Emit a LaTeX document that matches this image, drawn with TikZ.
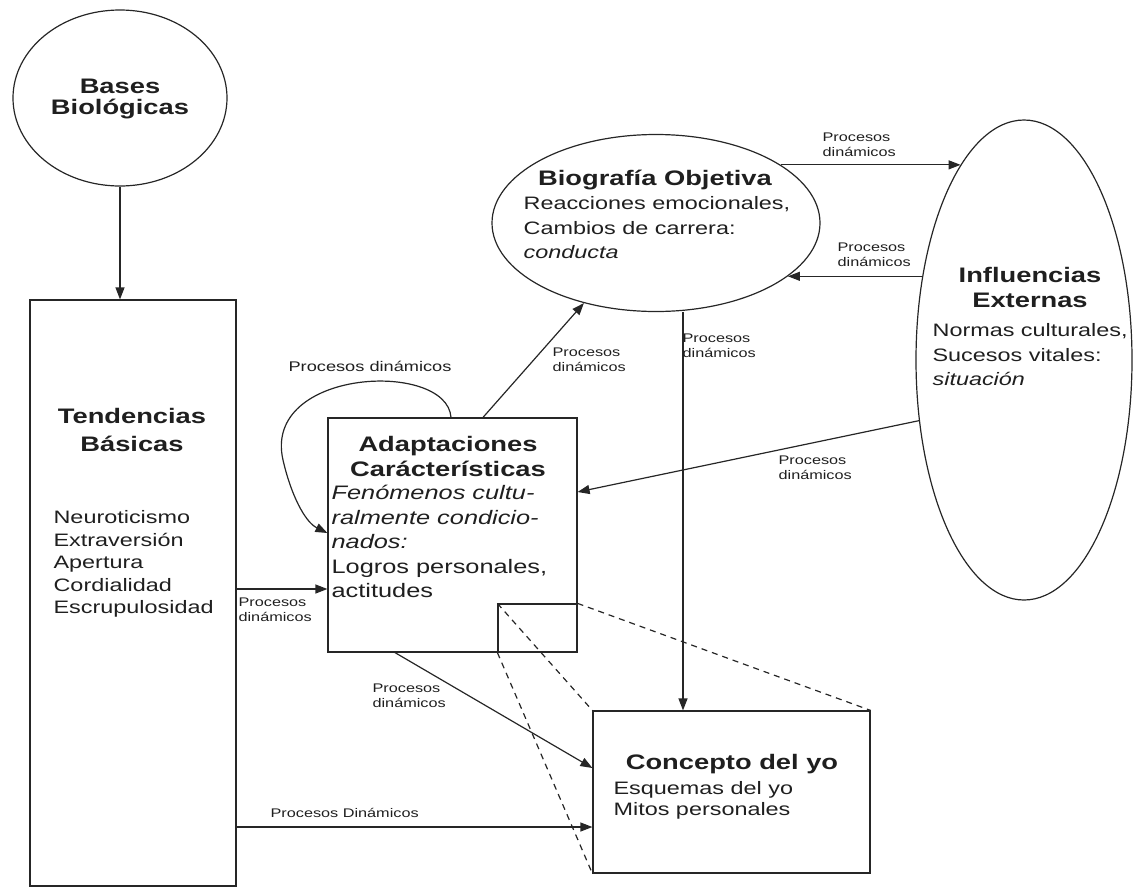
\documentclass[tikz,border=0pt]{standalone}
\usepackage{fontspec}
\setmainfont{Liberation Sans}[FakeStretch=1.3]
\usetikzlibrary{shapes.geometric,arrows.meta,calc}
\begin{document}
\begin{tikzpicture}[x=1pt,y=-1pt,
  line width=1.2pt, draw=black!85, text=black!88,
  arr/.style={-{Triangle[length=12pt,width=9pt]}},
  box/.style={draw,rectangle,inner sep=0},
  oval/.style={draw,ellipse,inner sep=0},
  head/.style={font=\fontsize{21}{28}\selectfont\bfseries, align=center, inner sep=0},
  body/.style={font=\fontsize{18}{24.5}\selectfont, align=left, inner sep=0, anchor=north west},
  lab/.style={font=\fontsize{12.5}{15.5}\selectfont, align=left, inner sep=0, anchor=north west},
  dashln/.style={dashed, dash pattern=on 6pt off 5pt}
]
\useasboundingbox (0,0) rectangle (1134,892);

% shapes
\node[oval, minimum width=214, minimum height=176] (bases) at (120,98) {};
\node[box, minimum width=206, minimum height=586] (tend) at (133,593) {};
\node[oval, minimum width=328, minimum height=177] (biog) at (656,223) {};
\node[oval, minimum width=216, minimum height=480] (influ) at (1024,360) {};
\node[box, minimum width=249, minimum height=234] (adapt) at (452.5,535) {};
\node[box, minimum width=79, minimum height=48] (zoomr) at (537.5,628) {};
\node[box, minimum width=277, minimum height=162] (concepto) at (731.5,792) {};

% texts
\node[head, font=\fontsize{21}{21}\selectfont\bfseries] (basesT) at (120,99) {Bases\\Biológicas};
\node[head] (tendT) at (132,430) {Tendencias\\Básicas};
\node[body, font=\fontsize{18}{22.5}\selectfont] (tendB) at (53,510) {Neuroticismo\\Extraversión\\Apertura\\Cordialidad\\Escrupulosidad};
\node[head] (biogT) at (655,180) {Biografía Objetiva};
\node[body] (biogB) at (523,196) {Reacciones emocionales,\\Cambios de carrera:\\\textit{conducta}};
\node[head, font=\fontsize{21}{25}\selectfont\bfseries] (influT) at (1030,287) {Influencias\\Externas};
\node[body] (influB) at (932,323) {Normas culturales,\\Sucesos vitales:\\\textit{situación}};
\node[head, font=\fontsize{21}{25}\selectfont\bfseries] (adaptT) at (448,456) {Adaptaciones\\Carácterísticas};
\node[body, font=\fontsize{19.5}{24.5}\selectfont] (adaptB) at (331,485) {\textit{Fenómenos cultu-}\\\textit{ralmente condicio-}\\\textit{nados:}\\Logros personales,\\actitudes};
\node[head] (concT) at (732,764) {Concepto del yo};
\node[body, font=\fontsize{18}{21}\selectfont] (concB) at (613,781) {Esquemas del yo\\Mitos personales};

% connectors
\draw[arr] (bases.south) -- (bases.south |- tend.north);
\draw[arr] (tend.east |- 0,589) -- (adapt.west |- 0,589);
\draw[arr] (tend.east |- 0,827) -- (concepto.west |- 0,827);
\draw[arr] (adapt.south -| 395,0) -- (concepto.west |- 0,768);
\draw[arr] (adapt.north -| 483,0) -- (biog.228);
\draw[arr] (biog.south -| 683,0) -- (concepto.north -| 683,0);
\draw[arr] (biog.25) -- (biog.25 -| influ.108);
\draw[arr] (influ.140 |- biog.-22) -- (biog.-22);
\draw[arr] (influ.210) -- (adapt.east |- 0,492);
\draw[arr] (adapt.north -| 451,0) .. controls (447,360) and (262,368) .. (283,460)
  .. controls (291,495) and (305,522) .. (adapt.west |- 0,533);

% zoom projection
\draw[dashln] (zoomr.north west) -- (concepto.north west);
\draw[dashln] (zoomr.south west) -- (concepto.south west);
\draw[dashln] (zoomr.north east) -- (concepto.north east);

% labels
\node[lab] (l1) at (822,132) {Procesos\\dinámicos};
\node[lab] (l2) at (837,242) {Procesos\\dinámicos};
\node[lab] (l3) at (682,333) {Procesos\\dinámicos};
\node[lab] (l4) at (552,347) {Procesos\\dinámicos};
\node[lab, font=\fontsize{14}{16}\selectfont] (l5) at (288,361) {Procesos dinámicos};
\node[lab] (l6) at (778,455) {Procesos\\dinámicos};
\node[lab] (l7) at (238,597) {Procesos\\dinámicos};
\node[lab] (l8) at (372,683) {Procesos\\dinámicos};
\node[lab] (l9) at (270,808) {Procesos Dinámicos};
\end{tikzpicture}
\end{document}
